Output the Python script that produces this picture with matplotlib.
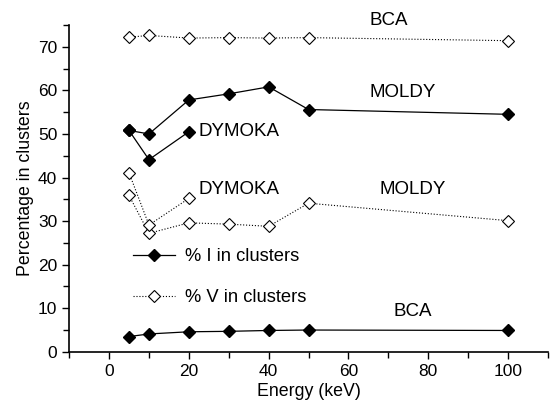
import matplotlib
matplotlib.use("Agg")
from matplotlib import pyplot as plt
from matplotlib.ticker import MultipleLocator

plt.rcParams['font.family'] = ['Liberation Sans', 'DejaVu Sans']

energy = [5, 10, 20, 30, 40, 50, 100]
energy_dym = [5, 10, 20]

# % I in clusters (filled diamonds)
i_bca = [3.5, 4.1, 4.6, 4.7, 4.9, 5.0, 4.9]
i_moldy = [50.8, 50.0, 57.8, 59.2, 60.8, 55.6, 54.5]
i_dymoka = [50.8, 44.1, 50.5]

# % V in clusters (open diamonds)
v_bca = [72.2, 72.6, 72.0, 72.1, 72.0, 72.1, 71.4]
v_moldy = [35.9, 27.2, 29.6, 29.3, 28.8, 34.1, 30.1]
v_dymoka = [41.1, 29.1, 35.2]

fig = plt.figure(figsize=(5.53, 4.03), dpi=100)
ax = fig.add_axes([0.125, 0.127, 0.866, 0.811])

i_style = dict(color='black', lw=0.9, ls='-', marker='D', ms=6.5,
               mfc='black', mec='black')
v_style = dict(color='black', lw=0.8, ls=':', marker='D', ms=6.5,
               mfc='white', mec='black', mew=0.8)

ax.plot(energy, i_bca, **i_style)
ax.plot(energy, i_moldy, **i_style, label='% I in clusters')
ax.plot(energy_dym, i_dymoka, **i_style)
ax.plot(energy, v_bca, **v_style)
ax.plot(energy, v_moldy, **v_style, label='% V in clusters')
ax.plot(energy_dym, v_dymoka, **v_style)

fs = 13.5
ax.text(70, 76.0, 'BCA', fontsize=fs, ha='center', va='center', clip_on=False)
ax.text(73.5, 59.5, 'MOLDY', fontsize=fs, ha='center', va='center')
ax.text(22.5, 50.5, 'DYMOKA', fontsize=fs, ha='left', va='center')
ax.text(22.5, 37.2, 'DYMOKA', fontsize=fs, ha='left', va='center')
ax.text(76, 37.2, 'MOLDY', fontsize=fs, ha='center', va='center')
ax.text(76, 9.2, 'BCA', fontsize=fs, ha='center', va='center')

ax.legend(loc='upper left', bbox_to_anchor=(0.134, 0.317), frameon=False,
          fontsize=13.2, handlelength=2.25, handletextpad=0.55, labelspacing=1.3,
          borderaxespad=0, borderpad=0)

ax.set_xlim(-10, 110)
ax.set_ylim(0, 75)
ax.xaxis.set_major_locator(MultipleLocator(20))
ax.xaxis.set_minor_locator(MultipleLocator(10))
ax.yaxis.set_major_locator(MultipleLocator(10))
ax.yaxis.set_minor_locator(MultipleLocator(5))
ax.set_xticks([0, 20, 40, 60, 80, 100])
ax.tick_params(which='major', direction='out', length=5, width=1, labelsize=12.5)
ax.tick_params(which='minor', direction='out', length=4, width=1)
for s in ['top', 'right']:
    ax.spines[s].set_visible(False)
for s in ['left', 'bottom']:
    ax.spines[s].set_linewidth(1.2)

ax.set_xlabel('Energy (keV)', fontsize=12.8, labelpad=3)
ax.set_ylabel('Percentage in clusters', fontsize=12.8, labelpad=3)

fig.savefig('out.png', dpi=100)
